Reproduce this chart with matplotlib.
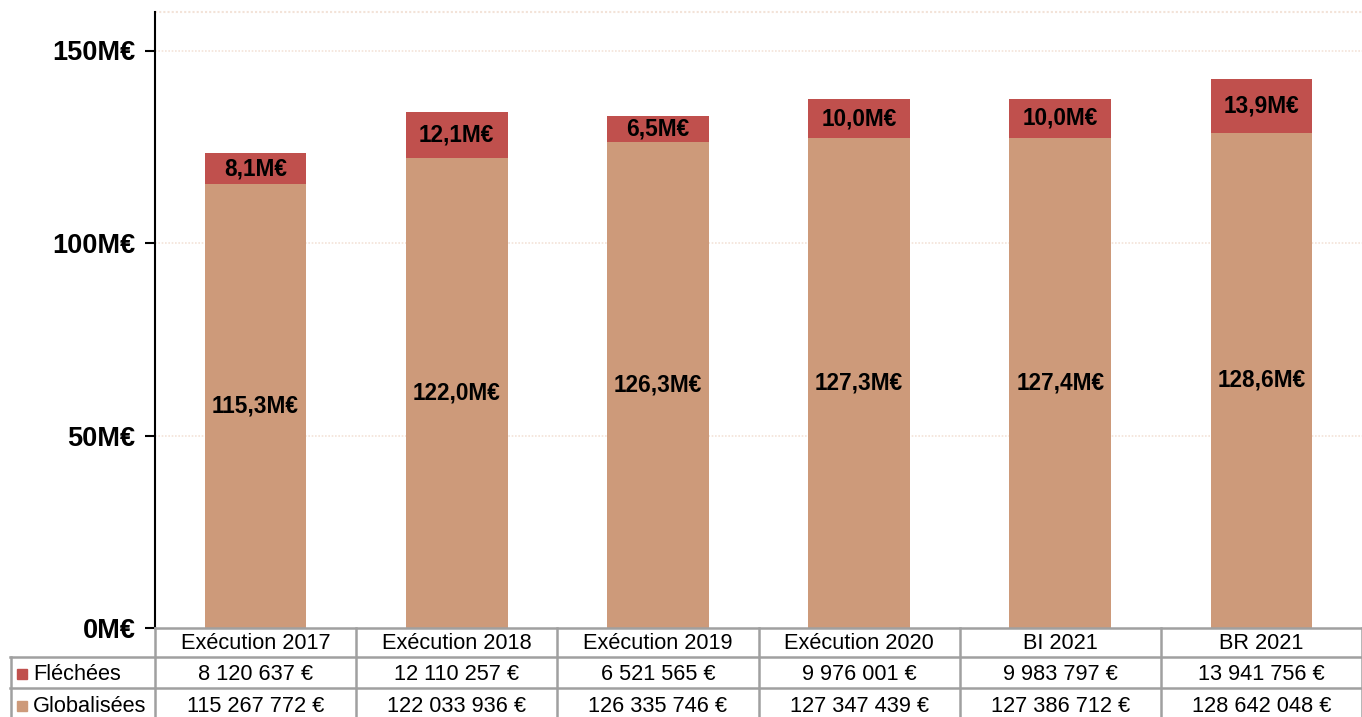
import matplotlib
matplotlib.use("Agg")
import matplotlib.pyplot as plt
from matplotlib.transforms import blended_transform_factory
from matplotlib.patches import Rectangle

categories = ["Exécution 2017", "Exécution 2018", "Exécution 2019", "Exécution 2020", "BI 2021", "BR 2021"]
globalisees = [115267772, 122033936, 126335746, 127347439, 127386712, 128642048]
flechees = [8120637, 12110257, 6521565, 9976001, 9983797, 13941756]
series_names = ["Fléchées", "Globalisées"]
yticks = [0, 50, 100, 150]

col_glob = "#CD9A7A"
col_flec = "#C0504D"
grid_col = "#F3E3D8"
table_col = "#A0A0A0"

plt.rcParams['font.family'] = ['Liberation Sans', 'DejaVu Sans']

W, H = 1362, 717
fig = plt.figure(figsize=(W / 100, H / 100), dpi=100)
ax_left, ax_right, ax_top, ax_bottom = 155, 1362, 12, 628
ax = fig.add_axes([ax_left / W, 1 - ax_bottom / H, (ax_right - ax_left) / W, (ax_bottom - ax_top) / H])

x = list(range(len(categories)))
g = [v / 1e6 for v in globalisees]
f = [v / 1e6 for v in flechees]

ax.bar(x, g, width=0.505, color=col_glob, zorder=3)
ax.bar(x, f, bottom=g, width=0.505, color=col_flec, zorder=3)

def fmt_m(v):
    return f"{v:.1f}".replace(".", ",") + "M€"

for xi, gv, fv in zip(x, g, f):
    ax.text(xi, gv / 2, fmt_m(gv), ha="center", va="center", fontsize=16.3, fontweight="bold", zorder=4)
    ax.text(xi, gv + fv / 2, fmt_m(fv), ha="center", va="center", fontsize=16.3, fontweight="bold", zorder=4)

ax.set_xlim(-0.5, len(categories) - 0.5)
ax.set_ylim(0, 160)
ax.set_yticks(yticks)
ax.set_yticklabels([f"{t}M€" for t in yticks], fontsize=19.5, fontweight="bold")
ax.set_xticks([])
for t in yticks[1:]:
    ax.axhline(t, color=grid_col, lw=1.2, ls=(0, (1, 1)), zorder=1)
ax.axhline(160, color=grid_col, lw=1.5, ls=(0, (1, 1)), zorder=1, clip_on=False)

for s in ["top", "right", "bottom"]:
    ax.spines[s].set_visible(False)
ax.spines["left"].set_linewidth(1.5)
ax.spines["left"].set_color("black")
ax.tick_params(axis="y", length=7, width=1.5, pad=7, direction="out")

# data table below
tr = blended_transform_factory(ax.transData, fig.transFigure)
trf = fig.transFigure
def fy(px):
    return 1 - px / H

lw = 1.8
x0 = -0.5
x1 = len(categories) - 0.5
ax.plot([x0, x1], [fy(628), fy(628)], transform=tr, color=table_col, lw=lw, clip_on=False, zorder=5)
for yy in [657, 688]:
    fig.add_artist(plt.Line2D([10 / W, 1.0], [fy(yy), fy(yy)], transform=trf, color=table_col, lw=lw))
for i in range(len(categories) + 1):
    xb = i - 0.5
    ax.plot([xb, xb], [fy(628), fy(717)], transform=tr, color=table_col, lw=lw, clip_on=False, zorder=5)
fig.add_artist(plt.Line2D([10.5 / W, 10.5 / W], [fy(657), fy(717)], transform=trf, color=table_col, lw=lw))

for xi, c in zip(x, categories):
    ax.text(xi, fy(643.5), c, transform=tr, ha="center", va="center", fontsize=15.7)

def fmt_eur(v):
    return f"{v:,}".replace(",", " ") + " €"

row_data = [flechees, globalisees]
row_cols = [col_flec, col_glob]
row_mid = [674.5, 706.5]
marker_mid = [674, 706]
for name, data, col, ym, mm in zip(series_names, row_data, row_cols, row_mid, marker_mid):
    fig.add_artist(Rectangle((17 / W, fy(mm + 5)), 10 / W, 10 / H, transform=trf, color=col))
    fig.text(33 / W, fy(ym), name, ha="left", va="center", fontsize=15.7)
    for xi, v in zip(x, data):
        ax.text(xi, fy(ym), fmt_eur(v), transform=tr, ha="center", va="center", fontsize=15.7)

fig.savefig("out.png", dpi=100)
